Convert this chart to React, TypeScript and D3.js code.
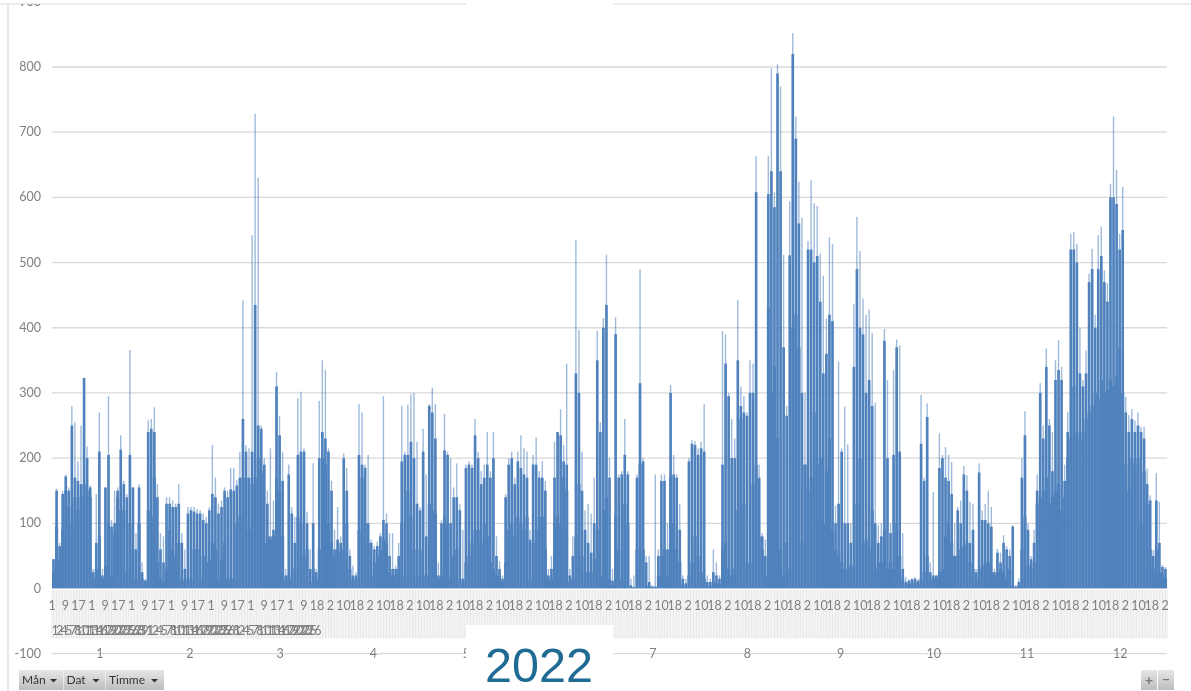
import React from "react";
import * as d3 from "d3";

const monthLabels = ["1", "2", "3", "4", "5", "6", "7", "8", "9", "10", "11", "12"];
const daysInMonth = [31, 28, 31, 30, 31, 30, 31, 31, 30, 31, 30, 31];
const yTicks = [-100, 0, 100, 200, 300, 400, 500, 600, 700, 800, 900];

// Highest value of each day
const peakByDay = [
  45,153,70,150,175,155,280,255,195,250,323,218,158,30,145,270,30,155,295,105,150,155,235,165,145,366,155,85,160,40,15,
  258,260,278,160,85,80,140,140,135,130,160,85,60,125,125,125,122,120,115,110,125,220,170,130,135,155,150,185,
  185,166,210,442,220,215,542,728,630,250,200,150,215,135,332,265,210,30,190,125,110,292,302,215,118,60,192,30,288,350,335,
  215,165,90,125,80,207,185,60,35,25,283,270,190,205,75,65,72,85,295,115,85,85,35,70,280,210,282,298,300,225,
  125,245,175,283,308,283,40,105,268,210,200,155,192,130,90,190,195,190,260,210,180,190,240,180,240,80,42,20,145,200,210,
  170,210,235,215,210,90,205,232,180,195,165,30,50,225,240,275,220,345,30,80,535,397,210,120,130,115,170,395,255,415,
  512,200,30,416,175,180,260,180,15,20,175,490,200,50,50,5,175,60,175,175,100,312,205,175,130,20,15,200,228,226,215,
  225,283,20,15,60,40,20,395,390,300,260,230,442,310,295,270,350,345,663,190,85,75,663,798,608,804,770,512,280,594,852,
  724,624,569,300,533,627,591,587,514,480,414,539,528,127,348,215,279,221,100,436,570,518,445,420,428,392,285,97,100,398,
  320,100,335,382,373,85,18,14,16,18,14,297,170,284,40,148,20,238,205,217,205,194,100,125,135,188,174,133,130,30,192,
  120,130,150,125,30,61,55,82,65,60,97,5,15,200,272,100,50,90,175,315,250,368,260,240,350,381,340,190,271,544,
  547,529,400,320,365,483,521,420,542,555,488,468,621,724,642,544,616,294,266,275,258,270,248,248,184,143,59,177,133,36,33,
];

// Upper edge of the solid part of each day
const highByDay = [
  45,150,65,145,172,150,250,170,165,160,323,200,155,25,70,210,20,155,205,95,100,150,213,160,140,205,155,60,155,25,12,
  240,245,240,140,60,40,130,130,125,125,130,70,30,115,120,118,115,115,105,100,120,145,140,115,125,150,140,152,
  150,158,170,260,210,170,210,435,250,245,190,130,80,90,310,235,165,20,175,115,70,205,210,210,100,30,100,25,200,240,230,
  210,150,60,75,70,200,150,50,20,20,205,190,185,100,70,60,65,80,105,100,50,30,30,50,195,205,205,225,200,130,
  120,210,80,280,270,230,20,100,212,205,100,140,140,120,15,185,190,185,235,200,160,170,190,170,200,50,30,15,140,190,200,
  160,195,185,175,170,75,190,190,170,170,150,20,30,170,240,235,195,190,20,50,330,300,150,90,70,55,100,350,240,400,
  435,170,12,390,170,175,205,175,5,2,170,315,195,40,10,3,3,50,165,165,60,300,175,170,90,15,8,195,222,220,205,
  215,210,10,10,25,20,15,190,345,295,200,200,350,280,270,265,300,300,608,170,80,50,605,640,585,790,640,370,265,511,820,
  690,560,300,190,520,520,500,510,440,330,360,420,410,100,130,210,100,100,70,340,490,400,390,300,320,280,100,70,80,380,
  200,85,205,370,210,30,10,12,14,15,12,222,165,263,25,20,20,185,200,170,165,145,50,120,100,175,150,70,90,25,178,
  105,105,100,95,25,55,40,70,60,50,95,3,10,170,235,90,45,70,150,300,230,340,250,180,320,335,320,165,240,520,
  520,500,330,310,330,470,490,400,490,510,470,440,600,600,590,520,550,270,240,260,240,250,240,230,160,135,50,135,70,33,30,
];

// Floor that the whole of each day covers
const lowByDay = [
  25,95,45,90,150,125,100,140,120,140,160,150,140,15,30,80,15,35,100,20,85,140,120,120,25,100,60,15,100,15,12,
  120,110,170,40,15,10,30,90,60,50,70,15,12,15,15,60,60,15,50,40,45,70,60,15,45,70,15,15,
  15,100,110,170,170,90,160,170,200,180,70,80,75,80,170,150,80,12,20,15,30,110,100,50,60,10,30,15,60,200,190,
  100,70,50,60,55,60,100,30,15,15,90,170,100,70,20,40,50,60,75,70,25,20,20,30,100,20,150,110,60,20,
  60,20,20,130,120,115,15,20,110,100,15,50,60,15,10,40,50,70,90,90,70,100,80,40,30,20,20,10,40,90,100,
  80,110,100,90,110,15,70,90,110,110,60,12,15,100,110,100,170,150,10,15,80,160,50,25,25,25,45,90,20,120,
  140,15,5,110,60,15,130,100,2,2,60,190,60,5,3,2,2,20,50,60,20,170,100,60,40,5,3,20,40,80,50,
  25,15,4,4,10,8,5,60,70,30,20,30,120,260,130,40,40,160,190,80,60,20,430,300,340,230,60,20,70,30,400,
  420,370,70,190,150,170,270,190,200,100,180,230,90,60,50,40,30,30,35,35,130,200,70,75,60,120,30,40,40,90,
  30,40,30,100,50,15,5,8,8,10,8,15,25,50,15,15,15,25,30,80,100,70,50,50,60,65,70,40,30,15,30,
  35,40,40,25,20,25,30,25,15,30,5,2,5,60,110,35,30,40,130,140,150,170,130,140,150,160,120,140,200,230,
  310,240,230,240,260,270,280,300,290,320,300,305,320,310,325,370,300,190,150,200,190,200,100,180,130,60,30,60,25,22,15,
];

const hourLabels = [
  "1","9","17","1","9","17","1","9","17","1","9","17","1","9","17","1","9","17","1","9","18",
  "2","10","18","2","10","18","2","10","18","2","10","18","2","10","18","2","10","18","2","10","18",
  "2","10","18","2","10","18","2","10","18","2","10","18","2","10","18","2","10","18","2","10","18",
  "2","10","18","2","10","18","2","10","18","2","10","18","2","10","18","2","10","18","2","10","18","2",
];
const dateLabels = [
  "1","2","4","5","7","8","10","11","13","14","16","17","19","20","22","23","25","26","28","29","31",
  "1","2","4","5","7","8","10","11","13","14","16","17","19","20","22","23","25","26","28",
  "1","2","4","5","7","8","10","11","13","14","16","17","19","20","22","23","25","26",
];
const filterButtons = [{ label: "Mån", w: 44 }, { label: "Dat", w: 42 }, { label: "Timme", w: 58 }];

const font = "Lato, 'Open Sans', sans-serif";
const axisColor = "#7f7f7f";
const gridColor = "#d9d9d9";
const barColor = "#4f81bd";

const totalDays = d3.sum(daysInMonth);
const x = d3.scaleLinear().domain([0, totalDays]).range([52, 1167]);
const y = d3.scaleLinear().domain([0, 800]).range([588.5, 67]);
const dayW = x(1) - x(0);
const monthEdges = d3.cumsum([0, ...daysInMonth]);
const combCount = totalDays * 2;
const hourStep = d3.scaleLinear().domain([0, hourLabels.length - 1]).range([52, 1165]);
const dateStep = 4.55;

export default function App() {
  return (
    <svg
      width={1191}
      height={691}
      style={{ position: "fixed", left: 0, top: 0, background: "#fff", filter: "blur(0.4px)" }}
    >
      <defs>
        <clipPath id="frame"><rect x={0} y={4} width={1191} height={687} /></clipPath>
        <linearGradient id="btn" x1="0" y1="0" x2="0" y2="1">
          <stop offset="0" stopColor="#e6e6e6" />
          <stop offset="1" stopColor="#bdbdbd" />
        </linearGradient>
      </defs>

      <line x1={0} x2={1191} y1={4} y2={4} stroke={gridColor} strokeWidth={1.2} />
      <line x1={8} x2={8} y1={4} y2={691} stroke={gridColor} strokeWidth={1.2} />

      <g clipPath="url(#frame)">
        {yTicks.map((t) => (
          <g key={t}>
            {t > 0 && t < 900 && (
              <line x1={x(0)} x2={x(totalDays)} y1={y(t)} y2={y(t)} stroke={gridColor} strokeWidth={1.3} />
            )}
            <text x={41} y={y(t) + 4} textAnchor="end" fontFamily={font} fontSize={12.5} fill={axisColor}>{t}</text>
          </g>
        ))}
      </g>

      {/* category tick comb */}
      {d3.range(combCount + 1).map((i) => (
        <line key={i} x1={x(i / 2)} x2={x(i / 2)} y1={590} y2={638.5} stroke="#e2e2e2" strokeWidth={0.8} />
      ))}

      {/* daily marks */}
      {peakByDay.map((v, i) => (
        <rect key={"p" + i} x={x(i) + 0.8} width={1.4} y={y(v)} height={y(0) - y(v)} fill={barColor} opacity={0.55} />
      ))}
      {highByDay.map((v, i) => (
        <rect key={"h" + i} x={x(i) + 0.2} width={dayW - 0.4} y={y(v)} height={y(0) - y(v)} fill={barColor} />
      ))}
      {lowByDay.map((v, i) => (
        <rect key={"l" + i} x={x(i)} width={dayW + 0.05} y={y(v)} height={y(0) - y(v)} fill={barColor} />
      ))}
      <line x1={x(0)} x2={x(totalDays)} y1={y(0)} y2={y(0)} stroke="#b9c9dd" strokeWidth={1} />

      {/* hour labels */}
      {hourLabels.map((t, i) => (
        <text key={i} x={hourStep(i)} y={610} textAnchor="middle" fontFamily={font} fontSize={12.5} fill={axisColor}>{t}</text>
      ))}
      {/* date labels, overlapping as in the source */}
      {dateLabels.map((t, i) => (
        <text key={i} x={55 + i * dateStep} y={635} textAnchor="middle" fontFamily={font} fontSize={12.5} fill={axisColor}>{t}</text>
      ))}

      {/* month axis */}
      <line x1={x(0)} x2={x(totalDays)} y1={y(-100)} y2={y(-100)} stroke={gridColor} strokeWidth={1.2} />
      {monthEdges.map((d, i) => (
        <line key={i} x1={x(d)} x2={x(d)} y1={639} y2={664} stroke={gridColor} strokeWidth={1.2} />
      ))}
      {monthLabels.map((m, i) => (
        <text key={m} x={x((monthEdges[i] + monthEdges[i + 1]) / 2) + 0.5} y={658} textAnchor="middle" fontFamily={font} fontSize={12.5} fill={axisColor}>{m}</text>
      ))}

      {/* pasted-over year label */}
      <rect x={466} y={0} width={147} height={6} fill="#fff" />
      <rect x={466} y={625} width={147} height={66} fill="#fff" />
      <text x={539} y={682} textAnchor="middle" fontFamily="'Liberation Sans', Arial, sans-serif" fontSize={48.5} fill="#1f6b94">2022</text>

      {/* field buttons */}
      {filterButtons.map((b, i) => {
        const left = 19 + d3.sum(filterButtons.slice(0, i), (o) => o.w + 0.5);
        return (
          <g key={b.label}>
            <rect x={left} y={670} width={b.w} height={20} fill="url(#btn)" />
            <text x={left + 3} y={684} fontFamily={font} fontSize={12} fill="#333">{b.label}</text>
            <path d={`M${left + b.w - 13} 679h7l-3.5 3.5z`} fill="#333" />
          </g>
        );
      })}
      <rect x={1141} y={670} width={16} height={20} fill="url(#btn)" />
      <rect x={1158} y={670} width={16} height={20} fill="url(#btn)" />
      <text x={1149} y={685} textAnchor="middle" fontFamily={font} fontSize={14} fontWeight={700} fill="#777">+</text>
      <text x={1166} y={684} textAnchor="middle" fontFamily={font} fontSize={14} fontWeight={700} fill="#777">−</text>
    </svg>
  );
}
